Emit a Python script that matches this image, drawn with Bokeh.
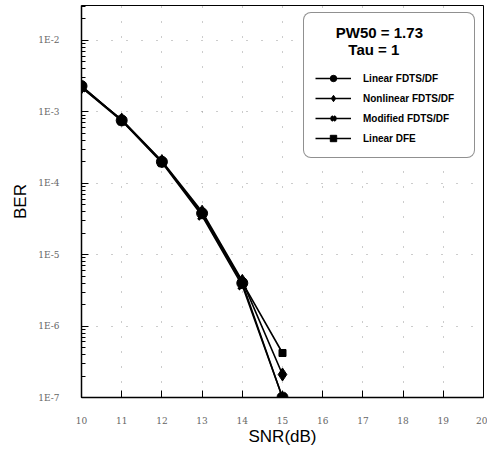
from bokeh.plotting import figure
from bokeh.models import Legend, LegendItem, CustomJSTickFormatter, FixedTicker, Range1d
from bokeh.embed import file_html
from bokeh.resources import INLINE

snr = [10, 11, 12, 13, 14, 15]
linear_fdts = [2.3e-3, 7.6e-4, 2.0e-4, 3.8e-5, 4.0e-6, 1.0e-7]
nonlinear_fdts = [2.2e-3, 7.8e-4, 2.05e-4, 4.0e-5, 4.3e-6, 2.1e-7]
modified_fdts = [2.2e-3, 7.5e-4, 1.95e-4, 3.5e-5, 3.7e-6, 1.0e-7]
linear_dfe = [2.3e-3, 7.7e-4, 2.0e-4, 3.7e-5, 4.1e-6, 4.2e-7]
x_ticks = list(range(10, 21))
series_names = ["Linear FDTS/DF", "Nonlinear FDTS/DF", "Modified FDTS/DF", "Linear DFE"]
title_lines = ["PW50 = 1.73", "Tau = 1"]

p = figure(width=487, height=448, y_axis_type="log", output_backend="svg",
           toolbar_location=None, x_range=Range1d(10, 20), y_range=Range1d(1e-7, 10 ** -1.51),
           min_border_left=81, min_border_right=4, min_border_top=5, min_border_bottom=48)
p.background_fill_color = "white"
p.border_fill_color = "white"
p.outline_line_color = "black"
p.outline_line_width = 1

FONT = "Liberation Sans"
for ax in (p.xaxis[0], p.yaxis[0]):
    ax.axis_line_color = "black"
    ax.axis_line_width = 1.5
    ax.major_tick_out = 0
    ax.major_tick_in = 7
    ax.minor_tick_out = 0
    ax.minor_tick_in = 4
    ax.major_label_text_font = "DejaVu Serif"
    ax.major_label_text_font_size = "9px"
    ax.major_label_text_color = "#666666"
    ax.axis_label_text_font = FONT
    ax.axis_label_text_font_size = "17px"
    ax.axis_label_text_font_style = "normal"
    ax.axis_label_text_color = "black"

p.xaxis.ticker = FixedTicker(ticks=x_ticks)
p.xaxis.minor_tick_line_color = None
p.xaxis.major_label_standoff = 19
p.xaxis.axis_label = "SNR(dB)"
p.xaxis.axis_label_standoff = 0

p.yaxis.formatter = CustomJSTickFormatter(code="return '1E' + Math.round(Math.log10(tick));")
p.yaxis.major_label_standoff = 22
p.yaxis.axis_label = "BER"
p.yaxis.axis_label_standoff = 5

p.xgrid.grid_line_color = "#999999"
p.xgrid.grid_line_dash = "1 14"
p.ygrid.grid_line_color = "#999999"
p.ygrid.grid_line_dash = "1 14"

lw = 1.6
r1 = p.line(snr, linear_fdts, line_color="black", line_width=lw)
m1 = p.scatter(snr, linear_fdts, marker="circle", size=11, color="black")
r2 = p.line(snr, nonlinear_fdts, line_color="black", line_width=lw)
m2 = p.scatter(snr, nonlinear_fdts, marker="diamond", size=13, color="black")
r3 = p.line(snr, modified_fdts, line_color="black", line_width=lw)
m3 = p.scatter(snr, modified_fdts, marker="x", size=11, line_color="black", line_width=3)
r4 = p.line(snr, linear_dfe, line_color="black", line_width=lw)
m4 = p.scatter(snr, linear_dfe, marker="square", size=7, color="black")

items = [LegendItem(label=series_names[0], renderers=[r1, m1]),
         LegendItem(label=series_names[1], renderers=[r2, m2]),
         LegendItem(label=series_names[2], renderers=[r3, m3]),
         LegendItem(label=series_names[3], renderers=[r4, m4])]
# centre the two title lines inside the box with non-breaking spaces
title_text = "\u00a0" * 5 + title_lines[0] + "\n" + "\u00a0" * 8 + title_lines[1]
legend = Legend(items=items, location=(222, 239), title=title_text,
                title_text_font=FONT, title_text_font_size="15px",
                title_text_font_style="bold", title_text_color="black",
                title_text_line_height=1.3,
                title_standoff=12,
                padding=11, spacing=4, glyph_width=36, glyph_height=16,
                label_height=16, label_standoff=12, label_width=100,
                label_text_font=FONT, label_text_font_size="10px",
                label_text_font_style="bold", label_text_color="black",
                border_line_color="#222222", border_line_width=1.2,
                background_fill_color="white", background_fill_alpha=1.0)
try:
    legend.border_radius = 8
except Exception:
    pass
p.add_layout(legend, "center")

open("out.html", "w").write(file_html(p, INLINE))
